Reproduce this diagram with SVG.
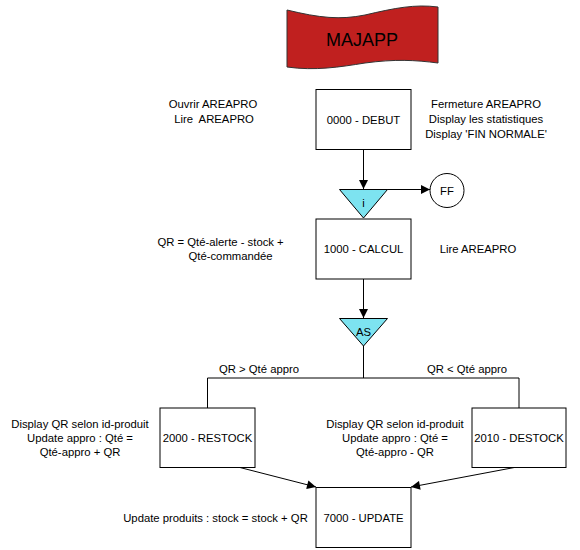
<svg xmlns="http://www.w3.org/2000/svg" width="580" height="550" viewBox="0 0 580 550">
<defs>
<marker id="arr" viewBox="0 0 10 10" refX="10" refY="5" markerWidth="10" markerHeight="9" markerUnits="userSpaceOnUse" orient="auto">
<path d="M0,0 L10,5 L0,10 Z" fill="#000"/>
</marker>
<style>
text{font-family:"Liberation Sans",Arial,sans-serif;font-size:11.3px;fill:#000}
.c{text-anchor:middle}
.box{fill:#fff;stroke:#000;stroke-width:1}
.tri{fill:#7DE3F0;stroke:#000;stroke-width:1}
.ln{fill:none;stroke:#000;stroke-width:1}
</style>
</defs>
<rect width="580" height="550" fill="#fff"/>
<g id="majapp">
<path d="M287,10 C320,18 340,20 365,15 C395,8 415,4 438,7 L438,63 C415,60 395,59 365,63 C340,67 315,71 287,67 Z" fill="#C0201F" stroke="#333" stroke-width="1"/>
<text class="c" x="362" y="46" style="font-size:18px">MAJAPP</text>
</g>
<g id="connectors">
<line class="ln" x1="363.5" y1="149" x2="363.5" y2="189" marker-end="url(#arr)"/>
<line class="ln" x1="387" y1="189.5" x2="430" y2="189.5" marker-end="url(#arr)"/>
<line class="ln" x1="363.5" y1="279" x2="363.5" y2="318" marker-end="url(#arr)"/>
<polyline class="ln" points="363.5,346 363.5,378"/>
<polyline class="ln" points="207.5,408 207.5,378 519,378 519,408"/>
<line class="ln" x1="238" y1="467" x2="316" y2="487" marker-end="url(#arr)"/>
<line class="ln" x1="517" y1="467" x2="411" y2="487" marker-end="url(#arr)"/>
</g>
<g id="debut">
<rect class="box" x="316" y="89.5" width="95" height="60"/>
<text class="c" x="363.5" y="123.5">0000 - DEBUT</text>
</g>
<g id="debut-left">
<text class="c" x="213" y="108">Ouvrir AREAPRO</text>
<text class="c" x="214" y="123" xml:space="preserve" style="white-space:pre">Lire  AREAPRO</text>
</g>
<g id="debut-right">
<text class="c" x="486" y="108">Fermeture AREAPRO</text>
<text class="c" x="486" y="123">Display les statistiques</text>
<text class="c" x="486" y="138">Display 'FIN NORMALE'</text>
</g>
<g id="tri-i">
<polygon class="tri" points="339.5,189.5 387.5,189.5 363.5,218"/>
<text class="c" x="363.5" y="207">i</text>
</g>
<g id="ff">
<circle cx="447" cy="190.5" r="17" fill="#fff" stroke="#000" stroke-width="1"/>
<text class="c" x="447" y="194.5">FF</text>
</g>
<g id="calcul">
<rect class="box" x="316" y="219" width="95" height="60"/>
<text class="c" x="363.5" y="253">1000 - CALCUL</text>
</g>
<g id="calcul-left">
<text x="157.5" y="246">QR = Qté-alerte - stock +</text>
<text x="188.5" y="260">Qté-commandée</text>
</g>
<g id="calcul-right">
<text class="c" x="478" y="253">Lire AREAPRO</text>
</g>
<g id="tri-as">
<polygon class="tri" points="339.5,318.5 387.5,318.5 363.5,346"/>
<text class="c" x="363.5" y="336">AS</text>
</g>
<g id="labels">
<text class="c" x="259" y="373">QR &gt; Qté appro</text>
<text class="c" x="467" y="373">QR &lt; Qté appro</text>
</g>
<g id="restock">
<rect class="box" x="160" y="408" width="95" height="59.5"/>
<text class="c" x="207.5" y="442">2000 - RESTOCK</text>
</g>
<g id="restock-left">
<text class="c" x="80" y="428">Display QR selon id-produit</text>
<text class="c" x="80" y="442">Update appro : Qté =</text>
<text class="c" x="80" y="456">Qté-appro + QR</text>
</g>
<g id="destock">
<rect class="box" x="472" y="408" width="94" height="59.5"/>
<text class="c" x="519" y="442">2010 - DESTOCK</text>
</g>
<g id="destock-left">
<text class="c" x="395" y="428">Display QR selon id-produit</text>
<text class="c" x="395" y="442">Update appro : Qté =</text>
<text class="c" x="395" y="456">Qté-appro - QR</text>
</g>
<g id="update">
<rect class="box" x="316" y="487.5" width="95" height="60"/>
<text class="c" x="363.5" y="521.5">7000 - UPDATE</text>
</g>
<g id="update-left">
<text class="c" x="215.5" y="521.5">Update produits : stock = stock + QR</text>
</g>
</svg>
